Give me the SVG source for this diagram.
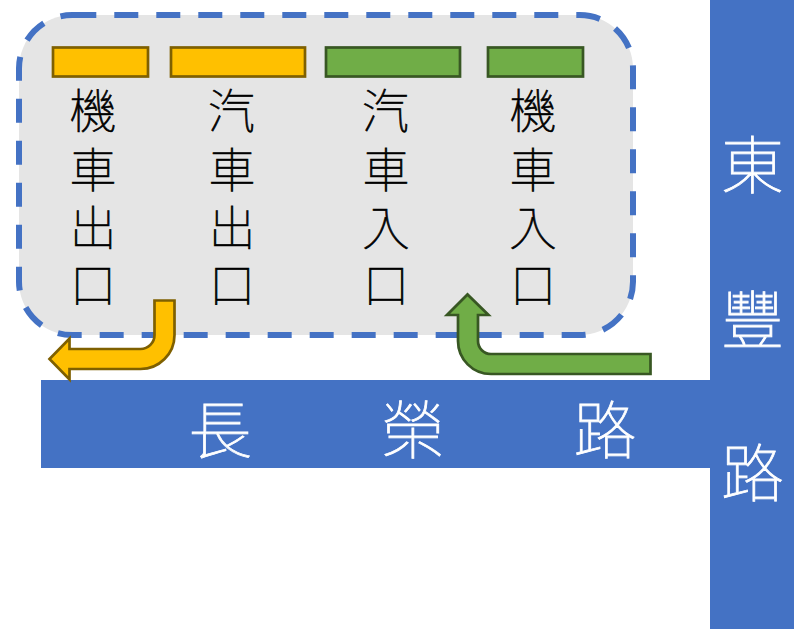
<svg xmlns="http://www.w3.org/2000/svg" width="794" height="629" viewBox="0 0 794 629">
<style>
text{font-family:"Noto Sans CJK TC","Noto Sans CJK SC",sans-serif;font-weight:100;text-anchor:middle}
.b{font-size:47px;fill:#000;stroke:#000;stroke-width:.7}
.r{font-size:63px;fill:#fff;stroke:#fff;stroke-width:.8}
.road{fill:#4472c4}
.o{fill:#ffc000;stroke:#7f6000;stroke-width:2.7}
.g{fill:#70ad47;stroke:#385723;stroke-width:2.7}
</style>
<rect width="794" height="629" fill="#fff"/>
<g id="road-east"><rect class="road" x="710" y="0" width="84" height="629"/>
<text class="r" x="752.500" y="188">東</text><text class="r" x="752.500" y="343">豐</text><text class="r" x="752.500" y="496">路</text></g>
<g id="road-south"><rect class="road" x="41" y="380" width="669" height="88"/>
<text class="r" x="220" y="453">長</text><text class="r" x="413" y="453">榮</text><text class="r" x="605" y="453">路</text></g>
<g id="lot"><rect x="19" y="15" width="614" height="320" rx="53.300" fill="#e5e5e5" stroke="#4472c4" stroke-width="6" stroke-dasharray="24 18"/></g>
<g id="motor-exit"><rect class="o" x="53" y="47.500" width="95" height="29"/>
<text class="b" x="93" y="128">機</text><text class="b" x="93" y="187">車</text><text class="b" x="93" y="245">出</text><text class="b" x="93" y="302">口</text></g>
<g id="car-exit"><rect class="o" x="171" y="47.500" width="134" height="29"/>
<text class="b" x="231.500" y="128">汽</text><text class="b" x="232" y="187">車</text><text class="b" x="232" y="245">出</text><text class="b" x="232" y="302">口</text></g>
<g id="car-entry"><rect class="g" x="326" y="47.500" width="134" height="29"/>
<text class="b" x="385.500" y="128">汽</text><text class="b" x="386" y="187">車</text><text class="b" x="386" y="245">入</text><text class="b" x="386" y="302">口</text></g>
<g id="motor-entry"><rect class="g" x="488" y="47.500" width="95" height="29"/>
<text class="b" x="533" y="128">機</text><text class="b" x="533" y="187">車</text><text class="b" x="533" y="245">入</text><text class="b" x="533" y="302">口</text></g>
<g id="connectors">
<path class="o" d="M154.500 300.500H174.500V335A34 34 0 0 1 140.500 369H69.500V379.500L49.500 359L69.500 338.500V349H140.500A14 14 0 0 0 154.500 335Z"/>
<path class="g" d="M650.500 354V374H491A33 33 0 0 1 458 341V315H447L467.500 294.500L488.500 315H478V341A13 13 0 0 0 491 354Z"/>
</g>
</svg>
